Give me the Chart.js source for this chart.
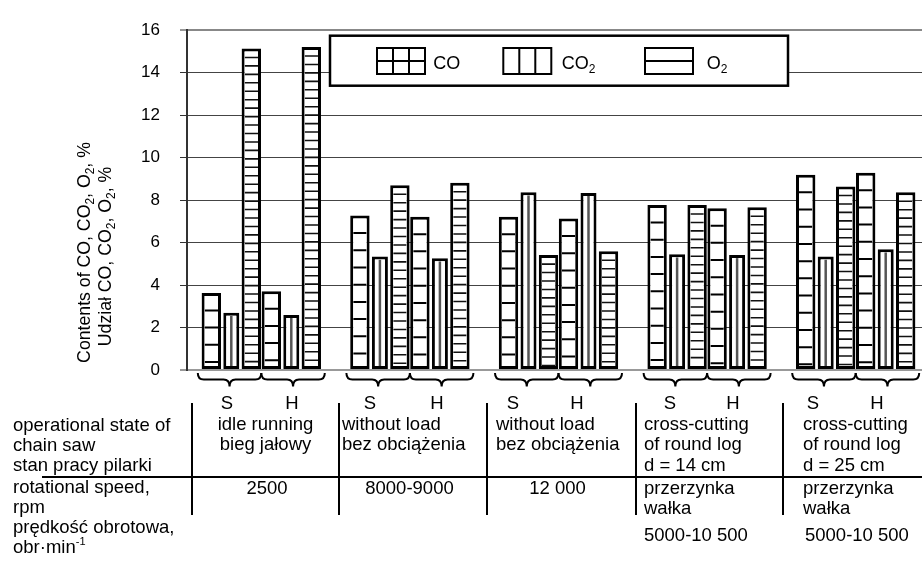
<!DOCTYPE html>
<html><head><meta charset="utf-8">
<script src="https://cdn.jsdelivr.net/npm/chart.js@4"></script>
<style>
html,body{margin:0;padding:0;background:#fff;overflow:hidden;width:922px;height:563px;}
#wrap{position:absolute;left:0;top:0;width:930px;height:563px;}
.t{position:absolute;font-family:"Liberation Sans",Arial,sans-serif;font-size:18.5px;line-height:20px;color:#000;white-space:nowrap;}
.c{transform:translateX(-50%);}
.vl{position:absolute;width:2px;background:#000;}
.hl{position:absolute;height:1.5px;background:#000;}
.sp{font-size:11px;position:relative;top:-8px;}
</style></head><body>
<div id="wrap"><canvas id="c"></canvas></div>
<div id="table"></div>
<script>
// ---------- data ----------
const categories = ['idle running', 'without load 8000-9000', 'without load 12 000', 'cross-cutting d = 14 cm', 'cross-cutting d = 25 cm'];
const seriesNames = ['CO', 'CO2', 'O2'];
const coS  = [3.63, 7.27, 7.22, 7.77, 9.19];
const co2S = [2.69, 5.35, 8.37, 5.45, 5.35];
const o2S  = [15.14, 8.70, 5.41, 7.77, 8.64];
const coH  = [3.71, 7.22, 7.13, 7.62, 9.29];
const co2H = [2.59, 5.26, 8.34, 5.41, 5.68];
const o2H  = [15.21, 8.82, 5.59, 7.66, 8.37];
const yTickValues = [0, 2, 4, 6, 8, 10, 12, 14, 16];
const pairLabels = ['S', 'H'];
const rowHeads = ['operational state of', 'chain saw', 'stan pracy pilarki', 'rotational speed,', 'rpm', 'prędkość obrotowa,', 'obr·min<span class="sp">-1</span>'];
const stateLines = [['idle running', 'bieg jałowy'], ['without load', 'bez obciążenia'], ['without load', 'bez obciążenia'], ['cross-cutting', 'of round log', 'd = 14 cm'], ['cross-cutting', 'of round log', 'd = 25 cm']];
const speedLines = [['2500'], ['8000-9000'], ['12 000'], ['przerzynka', 'wałka'], ['przerzynka', 'wałka']];
const speedRange = ['', '', '', '5000-10 500', '5000-10 500'];
const yTitle1 = [['Contents of CO, CO'], ['2', 1], [', O'], ['2', 1], [', %']];
const yTitle2 = [['Udział CO, CO'], ['2', 1], [', O'], ['2', 1], [', %']];

// ---------- drawing helpers ----------
const FONT = '"Liberation Sans", Arial, sans-serif';
function richWidth(ctx, parts, size) {
  let w = 0;
  parts.forEach(p => { ctx.font = (p[1] ? Math.round(size * 0.65) : size) + 'px ' + FONT; w += ctx.measureText(p[0]).width; });
  return w;
}
function drawRich(ctx, parts, x, y, size, center) {
  let w = richWidth(ctx, parts, size);
  let cx = center ? x - w / 2 : x;
  ctx.textAlign = 'left'; ctx.textBaseline = 'alphabetic';
  parts.forEach(p => {
    const s = p[1] ? Math.round(size * 0.65) : size;
    ctx.font = s + 'px ' + FONT;
    ctx.fillText(p[0], cx, y + (p[1] ? size * 0.22 : 0));
    cx += ctx.measureText(p[0]).width;
  });
}

const hatchPlugin = {
  id: 'hatch',
  afterDatasetsDraw(chart) {
    const ctx = chart.ctx;
    chart.data.datasets.forEach((d, i) => {
      const meta = chart.getDatasetMeta(i);
      meta.data.forEach(bar => {
        const p = bar.getProps(['x', 'y', 'base', 'width'], true);
        const l = p.x - p.width / 2 + 3, r = p.x + p.width / 2 - 3, t = p.y + 3, b = p.base - 3;
        ctx.save();
        ctx.beginPath(); ctx.rect(l, t, r - l, b - t); ctx.clip();
        ctx.beginPath();
        if (d.kind === 'co') {
          ctx.strokeStyle = '#000'; ctx.lineWidth = 2;
          for (let yy = p.y + 17.5; yy < p.base - 4; yy += 17.2) { ctx.moveTo(l, yy); ctx.lineTo(r, yy); }
        } else if (d.kind === 'o2') {
          ctx.strokeStyle = '#111'; ctx.lineWidth = 1.6;
          for (let yy = p.y + 9; yy < p.base - 3; yy += 8.45) { ctx.moveTo(l, yy); ctx.lineTo(r, yy); }
        } else {
          ctx.strokeStyle = '#555'; ctx.lineWidth = 2.5;
          ctx.moveTo(p.x, t); ctx.lineTo(p.x, b);
        }
        ctx.stroke();
        ctx.restore();
      });
    });
  }
};

function drawBrace(ctx, x1, x2, yt) {
  const m = (x1 + x2) / 2, r = 6, yh = yt + 6.5, tip = yt + 13.5;
  ctx.beginPath();
  ctx.moveTo(x1, yt);
  ctx.quadraticCurveTo(x1, yh, x1 + r, yh);
  ctx.lineTo(m - r, yh);
  ctx.quadraticCurveTo(m, yh, m, tip);
  ctx.quadraticCurveTo(m, yh, m + r, yh);
  ctx.lineTo(x2 - r, yh);
  ctx.quadraticCurveTo(x2, yh, x2, yt);
  ctx.stroke();
}

const bracePlugin = {
  id: 'braces',
  afterDraw(chart) {
    const ctx = chart.ctx, xs = chart.scales.x, y0 = chart.chartArea.bottom + 3;
    ctx.save(); ctx.strokeStyle = '#000'; ctx.lineWidth = 2;
    categories.forEach((c, i) => {
      const cx = xs.getPixelForValue(i), half = 63.5;
      drawBrace(ctx, cx - half, cx, y0);
      drawBrace(ctx, cx, cx + half, y0);
    });
    ctx.restore();
  }
};

const titlePlugin = {
  id: 'ytitle',
  afterDraw(chart) {
    const ctx = chart.ctx;
    ctx.save(); ctx.fillStyle = '#000';
    ctx.translate(83.5, 252.5); ctx.rotate(-Math.PI / 2);
    drawRich(ctx, yTitle1, 0, 6.3, 17.7, true);
    ctx.restore();
    ctx.save(); ctx.fillStyle = '#000';
    ctx.translate(104.5, 256.5); ctx.rotate(-Math.PI / 2);
    drawRich(ctx, yTitle2, 0, 6.3, 17.7, true);
    ctx.restore();
  }
};

const legendPlugin = {
  id: 'boxlegend',
  afterDraw(chart) {
    const ctx = chart.ctx;
    ctx.save();
    ctx.fillStyle = '#fff'; ctx.fillRect(330, 35.7, 458, 50);
    ctx.strokeStyle = '#000'; ctx.lineWidth = 2.5; ctx.strokeRect(330, 35.7, 458, 50);
    const sw = [377, 503.3, 645], tx = [433.3, 561.7, 706.7];
    const kinds = ['co', 'co2', 'o2'];
    ctx.lineWidth = 2;
    kinds.forEach((k, i) => {
      const x = sw[i], y = 48;
      ctx.strokeRect(x, y, 48, 26);
      ctx.beginPath();
      if (k !== 'o2') { ctx.moveTo(x + 16, y); ctx.lineTo(x + 16, y + 26); ctx.moveTo(x + 32, y); ctx.lineTo(x + 32, y + 26); }
      if (k !== 'co2') { ctx.moveTo(x, y + 13); ctx.lineTo(x + 48, y + 13); }
      ctx.stroke();
      ctx.fillStyle = '#000';
      const name = seriesNames[i];
      const parts = name.endsWith('2') ? [[name.slice(0, -1)], ['2', 1]] : [[name]];
      drawRich(ctx, parts, tx[i], 69.3, 18, false);
    });
    ctx.restore();
  }
};

// ---------- chart ----------
const CAT = 0.8075;
function ds(label, data, kind, bp) {
  return { label, data, kind, backgroundColor: '#fff', borderColor: '#000', borderWidth: 3, borderSkipped: false, barPercentage: bp, categoryPercentage: CAT };
}
new Chart(document.getElementById('c'), {
  type: 'bar',
  data: {
    labels: categories,
    datasets: [
      ds('CO S', coS, 'co', 0.97), ds('CO2 S', co2S, 'co2', 0.8), ds('O2 S', o2S, 'o2', 0.97),
      ds('CO H', coH, 'co', 0.97), ds('CO2 H', co2H, 'co2', 0.8), ds('O2 H', o2H, 'o2', 0.97)
    ]
  },
  options: {
    responsive: true, maintainAspectRatio: false, animation: false,
    layout: { padding: { left: 0, right: 0, top: 13.5, bottom: 193 } },
    plugins: { legend: { display: false }, tooltip: { enabled: false } },
    scales: {
      x: { display: false, offset: true },
      y: {
        min: 0, max: 16,
        afterFit(s) { s.width = 187; },
        afterBuildTicks(s) { s.ticks = yTickValues.map(v => ({ value: v })); },
        ticks: { font: { size: 17, family: FONT }, color: '#000', padding: 20 },
        grid: {
          color: c => c.tick.value === 16 ? '#888' : (c.tick.value === 0 ? '#999' : '#444'),
          lineWidth: c => (c.tick.value === 16 || c.tick.value === 0) ? 2 : 1,
          tickLength: 7, tickColor: '#333', tickWidth: 1
        },
        border: { display: true, color: '#333', width: 2 }
      }
    }
  },
  plugins: [hatchPlugin, bracePlugin, titlePlugin, legendPlugin]
});

// ---------- table below the chart ----------
const tbl = document.getElementById('table');
function txt(html, x, cy, center) {
  const d = document.createElement('div');
  d.className = 't' + (center ? ' c' : '');
  d.style.left = x + 'px'; d.style.top = (cy - 10) + 'px';
  d.innerHTML = html; tbl.appendChild(d);
}
function box(cls, x, y, w, h) {
  const d = document.createElement('div'); d.className = cls;
  d.style.left = x + 'px'; d.style.top = y + 'px';
  if (w) d.style.width = w + 'px'; if (h) d.style.height = h + 'px';
  tbl.appendChild(d);
}
const sX = [227, 370, 513, 670, 813], hX = [292, 437, 577, 733, 877];
sX.forEach((x, i) => { txt(pairLabels[0], x, 403, true); txt(pairLabels[1], hX[i], 403, true); });
const headY = [425, 445, 464.5, 487, 507, 527, 547];
rowHeads.forEach((h, i) => txt(h, 13, headY[i], false));
const stX = [265.5, 342, 496, 644, 803], stC = [true, false, false, false, false];
const stateY = [424, 444, 464.5];
stateLines.forEach((lines, i) => lines.forEach((l, j) => txt(l, stX[i], stateY[j], stC[i])));
const spX = [267, 409.5, 557.5, 644, 803], spC = [true, true, true, false, false];
const speedY = [488, 508];
speedLines.forEach((lines, i) => lines.forEach((l, j) => txt(l, spX[i], speedY[j], spC[i])));
const rX = [0, 0, 0, 644, 805];
speedRange.forEach((r, i) => { if (r) txt(r, rX[i], 535, false); });
[191, 338, 486, 635, 782].forEach(x => box('vl', x, 403, 0, 112));
box('hl', 42, 476, 880, 0);
</script>
</body></html>
